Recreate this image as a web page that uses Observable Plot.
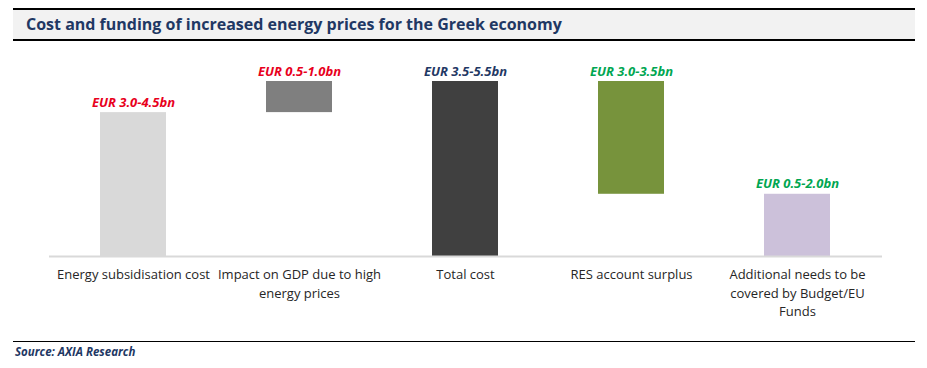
<!DOCTYPE html>
<html>
<head>
<meta charset="utf-8">
<script src="https://cdn.jsdelivr.net/npm/d3@7"></script>
<script src="https://cdn.jsdelivr.net/npm/@observablehq/plot@0.6"></script>
<style>
  html, body { margin: 0; padding: 0; background: #fff; }
  #wrap { position: relative; width: 927px; height: 368px; overflow: hidden; font-family: "Open Sans", sans-serif; }
  #title { position: absolute; left: 13px; top: 8px; width: 902px; height: 33px; box-sizing: border-box;
    border-top: 2px solid #000; border-bottom: 2px solid #000; background: #f2f2f2;
    font-weight: 700; font-size: 16px; color: #1f3864; padding-left: 13px; line-height: 29px; white-space: nowrap; }
  #chart { position: absolute; left: 0; top: 44px; }
  #source { position: absolute; left: 13px; top: 341px; width: 902px; box-sizing: border-box;
    border-top: 1.5px solid #000; font-weight: 700; font-style: italic; font-size: 11.5px; color: #1f3864;
    padding-left: 2px; padding-top: 2px; white-space: nowrap; }
</style>
</head>
<body>
<div id="wrap">
  <div id="title">Cost and funding of increased energy prices for the Greek economy</div>
  <div id="chart"></div>
  <div id="source">Source: AXIA Research</div>
</div>
<script>
const categories = [
  "Energy subsidisation cost",
  "Impact on GDP due to high energy prices",
  "Total cost",
  "RES account surplus",
  "Additional needs to be covered by Budget/EU Funds"
];
const tickLabels = [
  "Energy subsidisation cost",
  "Impact on GDP due to high\nenergy prices",
  "Total cost",
  "RES account surplus",
  "Additional needs to be\ncovered by Budget/EU\nFunds"
];
const barStart = [0, 3.7, 0, 1.6, 0];
const barEnd = [3.7, 4.5, 4.5, 4.5, 1.6];
const valueLabels = ["EUR 3.0-4.5bn", "EUR 0.5-1.0bn", "EUR 3.5-5.5bn", "EUR 3.0-3.5bn", "EUR 0.5-2.0bn"];
const barColors = ["#d9d9d9", "#7f7f7f", "#404040", "#77933c", "#ccc1da"];
const labelColors = ["#e8001c", "#e8001c", "#1f3864", "#00a651", "#00a651"];

const data = categories.map((c, i) => ({
  cat: c, tick: tickLabels[i], y1: barStart[i], y2: barEnd[i],
  label: valueLabels[i], fill: barColors[i], lc: labelColors[i]
}));

const chart = Plot.plot({
  width: 927,
  height: 292,
  marginLeft: 49,
  marginRight: 45,
  marginTop: 37,
  marginBottom: 80,
  style: { fontFamily: "Open Sans, sans-serif", fontSize: "12px", background: "transparent" },
  x: { type: "band", domain: categories, paddingInner: 0.6, paddingOuter: 0.3, axis: null },
  y: { domain: [0, 4.5], axis: null },
  color: { type: "identity" },
  marks: [
    Plot.barY(data, { x: "cat", y1: "y1", y2: "y2", fill: "fill", inset: 0 }),
    Plot.ruleY([0], { stroke: "#d9d9d9", strokeWidth: 2 }),
    Plot.text(data, { x: "cat", y: "y2", text: "label", fill: "lc", fontWeight: "bold", fontStyle: "italic",
      fontSize: 13, lineAnchor: "bottom", dy: -6 }),
    Plot.text(data, { x: "cat", y: 0, text: "tick", fill: "#262626", fontSize: 13, lineAnchor: "top",
      lineHeight: 1.4, dy: 10 })
  ]
});
document.getElementById("chart").appendChild(chart);
</script>
</body>
</html>
